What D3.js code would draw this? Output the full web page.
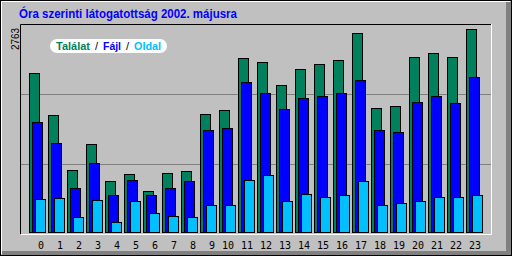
<!DOCTYPE html>
<html>
<head>
<meta charset="utf-8">
<script src="https://cdnjs.cloudflare.com/ajax/libs/d3/7.8.5/d3.min.js"></script>
<style>
body { margin: 0; background: #c0c0c0; }
svg { display: block; }
</style>
</head>
<body>
<script>
// hourly stats, May 2002
var hours   = d3.range(0, 24);
var hits    = [2164, 1592, 844, 1198, 694, 789, 558, 803, 830, 1606, 1661, 2368, 2314, 2001, 2219, 2287, 2341, 2709, 1688, 1715, 2382, 2436, 2382, 2763];
var files   = [1497, 1211, 599, 939, 504, 708, 504, 599, 694, 1388, 1416, 2042, 1892, 1674, 1824, 1851, 1892, 2069, 1388, 1361, 1769, 1851, 1756, 2110];
var pages   = [449, 463, 204, 436, 136, 422, 259, 218, 204, 367, 367, 708, 776, 422, 517, 476, 504, 694, 367, 395, 422, 476, 476, 504];
var maxVal  = 2763;
var title   = "Óra szerinti látogatottság 2002. májusra";
var legend  = ["Találat", "Fájl", "Oldal"];
var colors  = ["#00805c", "#0000ff", "#00c0ff"];

var width = 512, height = 256;
var svg = d3.select("body").append("svg").attr("width", width).attr("height", height);

// outer bevel
svg.append("rect").attr("x", 0).attr("y", 0).attr("width", width).attr("height", height).attr("fill", "#c0c0c0");
svg.append("rect").attr("x", 506).attr("y", 2).attr("width", 5).attr("height", 253).attr("fill", "#808080");
svg.append("rect").attr("x", 2).attr("y", 251).attr("width", 509).attr("height", 4).attr("fill", "#808080");
svg.append("path").attr("d", "M1.5,254 L1.5,1.5 L510,1.5").attr("fill", "none").attr("stroke", "#fff");
svg.append("rect").attr("x", 0.5).attr("y", 0.5).attr("width", 511).attr("height", 255)
  .attr("fill", "none").attr("stroke", "#000");

// title
svg.append("text").attr("x", 19).attr("y", 18)
  .attr("font-family", "Liberation Sans, Arial, sans-serif").attr("font-weight", "bold")
  .attr("font-size", 12).attr("fill", "#0000ff")
  .attr("textLength", 218).attr("lengthAdjust", "spacingAndGlyphs")
  .text(title);

// plot frame
var pTop = 24, pBottom = 234, pLeft = 20, pRight = 491;
for (var g = 1; g <= 2; g++) {
  var gy = Math.round(pBottom - (pBottom - pTop) * g / 3) + 0.5;
  svg.append("line").attr("x1", pLeft + 1).attr("x2", pRight).attr("y1", gy).attr("y2", gy)
    .attr("stroke", "#808080");
}
svg.append("path").attr("d", "M" + (pLeft + 0.5) + "," + pBottom + " L" + (pLeft + 0.5) + "," + (pTop + 0.5) + " L" + pRight + "," + (pTop + 0.5))
  .attr("fill", "none").attr("stroke", "#000");
svg.append("path").attr("d", "M" + (pLeft + 1) + "," + (pBottom + 0.5) + " L" + (pRight + 0.5) + "," + (pBottom + 0.5) + " L" + (pRight + 0.5) + "," + pTop)
  .attr("fill", "none").attr("stroke", "#fff");

// scales
var x = d3.scaleBand().domain(hours).range([29, 29 + 24 * 19]).padding(0);
var y = d3.scaleLinear().domain([0, maxVal]).range([232, 29]);

var series = [hits, files, pages];
var groups = svg.selectAll("g.hour").data(hours).enter().append("g").attr("class", "hour");
series.forEach(function(s, k) {
  groups.append("rect")
    .attr("x", function(h) { return x(h) + k * 3 + 0.5; })
    .attr("y", function(h) { return Math.round(y(s[h])) + 0.5; })
    .attr("width", 10)
    .attr("height", function(h) { return 232 - Math.round(y(s[h])); })
    .attr("fill", colors[k])
    .attr("stroke", "#000");
});

// hour labels
svg.selectAll("text.hl").data(hours).enter().append("text").attr("class", "hl")
  .attr("x", function(h) { return x(h) + 15; })
  .attr("y", 249)
  .attr("text-anchor", "end")
  .attr("font-family", "DejaVu Sans Mono, monospace").attr("font-size", 10)
  .attr("fill", "#000")
  .text(function(h) { return h; });

// max label, rotated
svg.append("text").attr("transform", "translate(19,28) rotate(-90)")
  .attr("text-anchor", "end")
  .attr("font-family", "Liberation Sans, Arial, sans-serif").attr("font-size", 11)
  .attr("textLength", 22).attr("lengthAdjust", "spacingAndGlyphs")
  .attr("fill", "#000")
  .text(maxVal);

// legend pill
svg.append("rect").attr("x", 50).attr("y", 39).attr("width", 117).attr("height", 14)
  .attr("rx", 7).attr("ry", 7).attr("fill", "#fff");
var lx = [56, 103, 134], lw = [34, 18, 27];
legend.forEach(function(t, k) {
  svg.append("text").attr("x", lx[k]).attr("y", 50)
    .attr("font-family", "Liberation Sans, Arial, sans-serif").attr("font-weight", "bold")
    .attr("font-size", 11).attr("fill", colors[k])
    .attr("textLength", lw[k]).attr("lengthAdjust", "spacingAndGlyphs")
    .text(t);
});
[95, 126].forEach(function(sx) {
  svg.append("text").attr("x", sx).attr("y", 50)
    .attr("font-family", "Liberation Sans, Arial, sans-serif")
    .attr("font-size", 11).attr("fill", "#000").text("/");
});
</script>
</body>
</html>
